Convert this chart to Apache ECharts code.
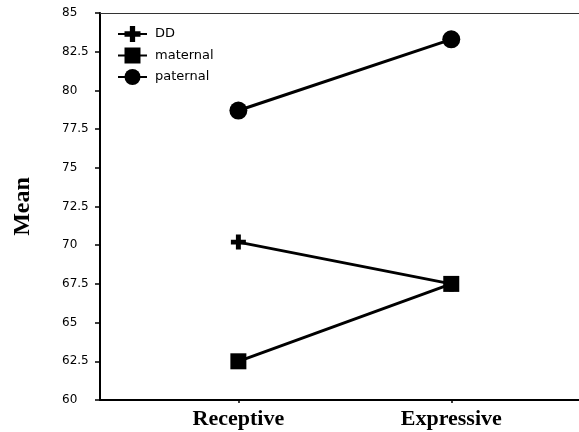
<!DOCTYPE html>
<html>
<head>
<meta charset="utf-8">
<script src="https://cdn.jsdelivr.net/npm/echarts@6/dist/echarts.min.js"></script>
<style>
  html, body { margin: 0; padding: 0; background: #fff; }
  #chart { width: 579px; height: 432px; }
</style>
</head>
<body>
<div id="chart"></div>
<script>
// values
var categories = ['Receptive', 'Expressive']
var ddMean = [70.2, 67.5]
var maternalMean = [62.5, 67.5]
var paternalMean = [78.7, 83.3]
var yTicks = [60, 62.5, 65, 67.5, 70, 72.5, 75, 77.5, 80, 82.5, 85]

// thick plus sign for the DD group
var crossPath = 'path://M3.35,0H6.65V3.35H10V6.65H6.65V10H3.35V6.65H0V3.35H3.35Z'

function toPoints(values) {
  return values.map(function (v, i) {
    return [i + 1, v]
  })
}

var chart = echarts.init(document.getElementById('chart'))
var option = {
  animation: false,
  backgroundColor: '#fff',
  grid: {
    left: 100,
    right: 0,
    top: 13,
    bottom: 32,
    outerBoundsMode: 'none',
    containLabel: false
  },
  legend: {
    orient: 'vertical',
    left: 112,
    top: 21,
    itemWidth: 29,
    itemHeight: 20,
    itemGap: 5.5,
    textStyle: {
      fontFamily: 'DejaVu Sans',
      fontSize: 13,
      color: '#000',
      padding: [0, 0, 0, 3]
    },
    data: ['DD', 'maternal', 'paternal']
  },
  xAxis: [{
    type: 'value',
    min: 0.35,
    max: 2.6,
    splitLine: { show: false },
    axisLine: { show: true, lineStyle: { color: '#000', width: 2 } },
    axisTick: {
      show: true,
      customValues: [1, 2],
      length: 3,
      lineStyle: { color: '#000', width: 1.5 }
    },
    axisLabel: {
      customValues: [1, 2],
      margin: 8,
      fontFamily: 'Liberation Serif',
      fontWeight: 'bold',
      fontSize: 22,
      color: '#000',
      formatter: function (v) {
        return categories[Math.round(v) - 1] || ''
      }
    }
  }, {
    type: 'value',
    position: 'top',
    min: 0.35,
    max: 2.6,
    splitLine: { show: false },
    axisLine: { show: true, lineStyle: { color: '#333', width: 1 } },
    axisTick: { show: false },
    axisLabel: { show: false }
  }],
  yAxis: {
    type: 'value',
    min: 60,
    max: 85,
    interval: 2.5,
    name: 'Mean',
    nameLocation: 'middle',
    nameRotate: 90,
    nameGap: 65,
    nameTextStyle: {
      fontFamily: 'Liberation Serif',
      fontWeight: 'bold',
      fontSize: 24,
      color: '#000'
    },
    splitLine: { show: false },
    axisLine: { show: true, lineStyle: { color: '#000', width: 2 } },
    axisTick: { show: true, length: 5, lineStyle: { color: '#000', width: 1.5 } },
    axisLabel: {
      align: 'left',
      margin: 38,
      fontFamily: 'DejaVu Sans',
      fontSize: 12,
      color: '#000',
      formatter: function (v) {
        return yTicks.indexOf(v) >= 0 ? String(v) : ''
      }
    }
  },
  series: [{
    name: 'DD',
    type: 'line',
    data: toPoints(ddMean),
    symbol: crossPath,
    symbolSize: 15,
    lineStyle: { color: '#000', width: 3 },
    itemStyle: { color: '#000' }
  }, {
    name: 'maternal',
    type: 'line',
    data: toPoints(maternalMean),
    symbol: 'rect',
    symbolSize: 16,
    lineStyle: { color: '#000', width: 3 },
    itemStyle: { color: '#000' }
  }, {
    name: 'paternal',
    type: 'line',
    data: toPoints(paternalMean),
    symbol: 'circle',
    symbolSize: 18,
    lineStyle: { color: '#000', width: 3 },
    itemStyle: { color: '#000' }
  }]
}
chart.setOption(option)
</script>
</body>
</html>
